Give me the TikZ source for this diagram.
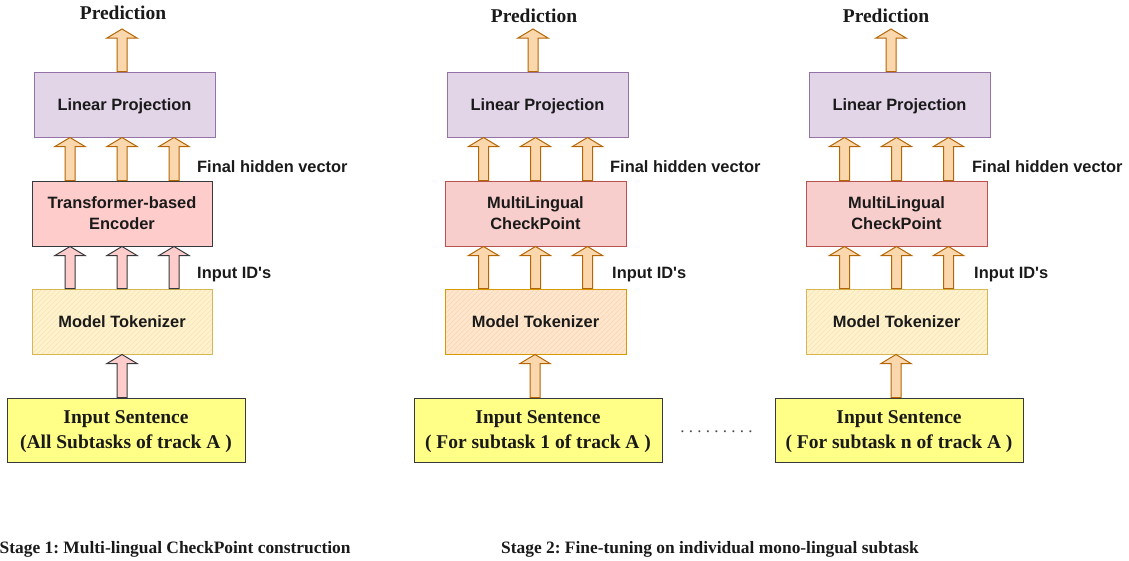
\documentclass[tikz,border=0pt]{standalone}
\usepackage{fontspec}
\setmainfont{Liberation Serif}
\setsansfont{Liberation Sans}
\usetikzlibrary{calc}
\frenchspacing
\definecolor{lpfill}{HTML}{E1D5E7}
\definecolor{lpdraw}{HTML}{9673A6}
\definecolor{pinkfill}{HTML}{FFCCCC}
\definecolor{gdraw}{HTML}{36393D}
\definecolor{redfill}{HTML}{F8CECC}
\definecolor{reddraw}{HTML}{B85450}
\definecolor{yfill}{HTML}{FFF2CC}
\definecolor{ydraw}{HTML}{D6B656}
\definecolor{yhatch}{HTML}{F6E4B4}
\definecolor{ofill}{HTML}{FFE6CC}
\definecolor{odraw}{HTML}{D79B00}
\definecolor{ohatch}{HTML}{F8D6B4}
\definecolor{sentfill}{HTML}{FFFF88}
\definecolor{arrfill}{HTML}{FAD7AC}
\definecolor{arrdraw}{HTML}{B46504}
\definecolor{txt}{HTML}{1A1A1A}
\newcommand\barrow[3]{%
  \path[#1] let \p1=(#2), \p2=(#3) in
    ({\x1-5pt},\y1) -- ({\x1-5pt},{\y2-9pt}) -- ({\x1-15pt},{\y2-9pt}) -- (\x1,\y2)
    -- ({\x1+15pt},{\y2-9pt}) -- ({\x1+5pt},{\y2-9pt}) -- ({\x1+5pt},\y1) -- cycle;}
\begin{document}
\begin{tikzpicture}[x=1pt,y=-1pt,
  box/.style={draw, line width=1pt, minimum width=181pt, minimum height=65pt, inner sep=0pt,
    text depth=0pt, align=center, text=txt, font=\sffamily\bfseries\fontsize{16.4}{21}\selectfont},
  lpbox/.style={box, fill=lpfill, draw=lpdraw},
  encbox/.style={box, fill=pinkfill, draw=gdraw},
  ckbox/.style={box, fill=redfill, draw=reddraw},
  hatchbox/.style 2 args={box, fill=#1, path picture={
      \foreach \i in {-80,-75,...,200}{
        \draw[#2, line width=0.5pt] ([xshift=\i pt]path picture bounding box.south west) -- ++(80pt,80pt);}}},
  tokY/.style={hatchbox={yfill}{yhatch}, draw=ydraw},
  tokO/.style={hatchbox={ofill}{ohatch}, draw=odraw},
  sent/.style={draw=gdraw, fill=sentfill, line width=1pt, minimum width=248pt, minimum height=64pt,
    inner sep=0pt, text depth=-3pt, align=center, text=txt, font=\rmfamily\bfseries\fontsize{19.5}{25}\selectfont},
  lab/.style={font=\sffamily\bfseries\fontsize{16.4}{20}\selectfont, anchor=base west, inner sep=0pt, text=txt},
  pred/.style={font=\rmfamily\bfseries\fontsize{19.5}{24}\selectfont, inner sep=0pt, text=txt},
  stage/.style={font=\rmfamily\bfseries\fontsize{17.4}{21}\selectfont, anchor=base west, inner sep=0pt, text=txt},
  oarrow/.style={fill=arrfill, draw=arrdraw, line width=1pt},
  parrow/.style={fill=pinkfill, draw=gdraw, line width=1pt}
]
\useasboundingbox (0,0) rectangle (1129,560);

% ---------- Panel 1 ----------
\node[pred] (pred1) at (123,13) {Prediction};
\coordinate (tip1) at (122,29);
\node[lpbox, minimum width=181pt] (lp1) at (124.5,104.5) {Linear Projection};
\node[encbox, minimum width=180pt] (enc1) at (122,213.5) {Transformer-based\\Encoder};
\node[tokY, minimum width=180pt] (tok1) at (122,321.5) {Model Tokenizer};
\node[sent, minimum width=238pt] (in1) at (126,430) {Input Sentence\\(All Subtasks of track A )};
\node[lab] (fh1) at (197,172) {Final hidden vector};
\node[lab] (id1) at (197,278) {Input ID\textquotesingle s};
\barrow{oarrow}{[xshift=-2.5pt]lp1.north}{tip1}
\foreach \d in {-52,0,52}{
  \barrow{oarrow}{[xshift=\d pt]enc1.north}{lp1.south}
  \barrow{parrow}{[xshift=\d pt]tok1.north}{enc1.south}
}
\barrow{parrow}{[xshift=-4pt]in1.north}{tok1.south}
\node[stage] (st1) at (-0.5,553) {Stage 1: Multi-lingual CheckPoint construction};

% ---------- Panel 2 ----------
\node[pred] (pred2) at (534,16) {Prediction};
\coordinate (tip2) at (533,29);
\node[lpbox] (lp2) at (537.5,104.5) {Linear Projection};
\node[ckbox] (enc2) at (535.5,213.5) {MultiLingual\\CheckPoint};
\node[tokO] (tok2) at (535.5,321.5) {Model Tokenizer};
\node[sent] (in2) at (538,430) {Input Sentence\\( For subtask 1 of track A )};
\node[lab] (fh2) at (610,172) {Final hidden vector};
\node[lab] (id2) at (612,278) {Input ID\textquotesingle s};
\barrow{oarrow}{[xshift=-4.5pt]lp2.north}{tip2}
\foreach \d in {-52,0,52}{
  \barrow{oarrow}{[xshift=\d pt]enc2.north}{lp2.south}
  \barrow{oarrow}{[xshift=\d pt]tok2.north}{enc2.south}
}
\barrow{oarrow}{[xshift=-3pt]in2.north}{tok2.south}

\node[font=\rmfamily\fontsize{17}{20}\selectfont, text=black!70, anchor=base, inner sep=0pt] (dots) at (716.5,432) {. . . . . . . . .};

% ---------- Panel 3 ----------
\node[pred] (pred3) at (886,16) {Prediction};
\coordinate (tip3) at (891,29);
\node[lpbox] (lp3) at (899.5,104.5) {Linear Projection};
\node[ckbox] (enc3) at (896.5,213.5) {MultiLingual\\CheckPoint};
\node[tokY] (tok3) at (896.5,321.5) {Model Tokenizer};
\node[sent] (in3) at (899,430) {Input Sentence\\( For subtask n of track A )};
\node[lab] (fh3) at (972,172) {Final hidden vector};
\node[lab] (id3) at (974,278) {Input ID\textquotesingle s};
\barrow{oarrow}{[xshift=-8.5pt]lp3.north}{tip3}
\foreach \d in {-52,0,52}{
  \barrow{oarrow}{[xshift=\d pt]enc3.north}{lp3.south}
  \barrow{oarrow}{[xshift=\d pt]tok3.north}{enc3.south}
}
\barrow{oarrow}{[xshift=-3pt]in3.north}{tok3.south}

\node[stage] (st2) at (501,553) {Stage 2: Fine-tuning on individual mono-lingual subtask};
\end{tikzpicture}
\end{document}
